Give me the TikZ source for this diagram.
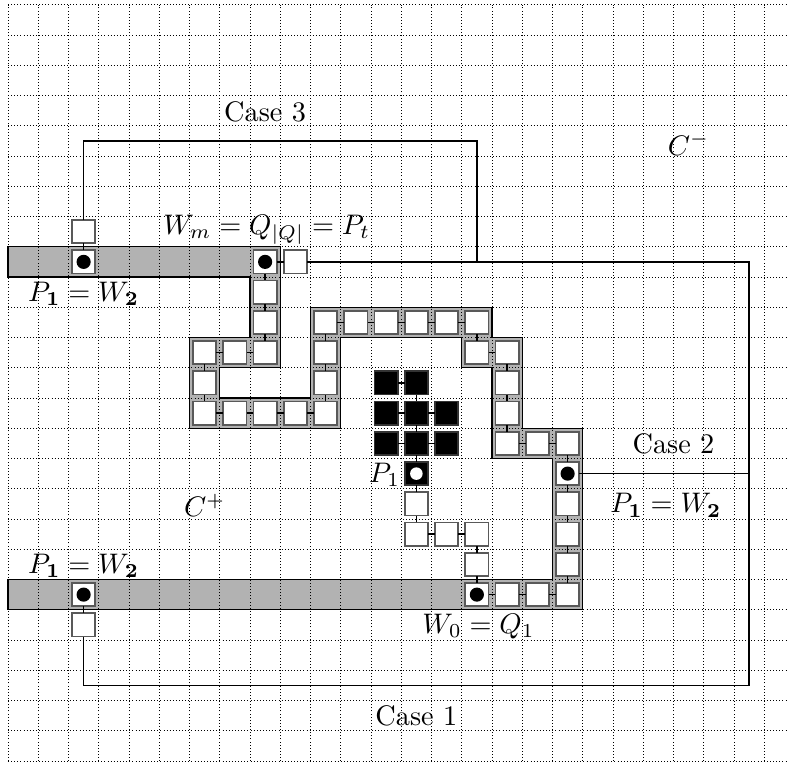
\documentclass[tikz,border=0pt]{standalone}
\usepackage{amsmath}
\begin{document}
\begin{tikzpicture}[x=0.376cm,y=0.376cm,
  cell/.style={draw=black!65, line width=0.6pt, fill=white, minimum size=0.29cm, inner sep=0pt, outer sep=0pt},
  bcell/.style={draw=black!80, line width=0.6pt, fill=black, minimum size=0.29cm, inner sep=0pt, outer sep=0pt},
  conn/.style={draw=black, line width=0.5pt},
  caseline/.style={draw=black, line width=0.5pt},
  lbl/.style={inner sep=0pt}]
\useasboundingbox (-0.264,-0.066) rectangle (25.752,25.157);
% gray region
\filldraw[fill=black!30, draw=black, line width=0.5pt]
 (0,17) -- (9,17) -- (9,13) -- (7,13) -- (7,12) -- (10,12) -- (10,15) -- (16,15) -- (16,14)
 -- (17,14) -- (17,11) -- (19,11) -- (19,5) -- (0,5) -- (0,6) -- (18,6) -- (18,10) -- (16,10)
 -- (16,13) -- (15,13) -- (15,14) -- (11,14) -- (11,11) -- (6,11) -- (6,14) -- (8,14) -- (8,16)
 -- (0,16) -- cycle;
% grid
\draw[line width=0.3pt, dash pattern=on 0.3pt off 0.8pt, step=0.376cm] (0,0) grid (25.75,25);
% white cells
\foreach \x/\y in {2/17,2/16,8/16,9/16,8/15,8/14,8/13,7/13,6/13,6/12,6/11,7/11,8/11,9/11,10/11,
  10/12,10/13,10/14,11/14,12/14,13/14,14/14,15/14,15/13,16/13,16/12,16/11,16/10,17/10,18/10,
  18/9,18/8,18/7,18/6,18/5,17/5,16/5,15/5,15/6,15/7,14/7,13/7,13/8,2/5,2/4}
  \node[cell] (c-\x-\y) at (\x+0.5,\y+0.5) {};
% black cells
\foreach \x/\y in {13/9,12/10,13/10,14/10,12/11,13/11,14/11,12/12,13/12}
  \node[bcell] (c-\x-\y) at (\x+0.5,\y+0.5) {};
% dots
\foreach \n in {c-2-16,c-8-16,c-18-9,c-15-5,c-2-5}
  \fill[black] (\n.center) circle[radius=0.088cm];
\fill[white] (c-13-9.center) circle[radius=0.078cm];
% connectors
\foreach \p/\q in {2-17/2-16,8-16/9-16,2-5/2-4,
  8-16/8-15,8-15/8-14,8-14/8-13,8-13/7-13,7-13/6-13,6-13/6-12,6-12/6-11,6-11/7-11,7-11/8-11,
  8-11/9-11,9-11/10-11,10-11/10-12,10-12/10-13,10-13/10-14,10-14/11-14,11-14/12-14,12-14/13-14,
  13-14/14-14,14-14/15-14,15-14/15-13,15-13/16-13,16-13/16-12,16-12/16-11,16-11/16-10,16-10/17-10,
  17-10/18-10,18-10/18-9,18-9/18-8,18-8/18-7,18-7/18-6,18-6/18-5,18-5/17-5,17-5/16-5,16-5/15-5,
  15-5/15-6,15-6/15-7,15-7/14-7,14-7/13-7,13-7/13-8,13-8/13-9,13-9/13-10,
  13-10/12-10,13-10/14-10,13-10/13-11,13-11/12-11,13-11/14-11,13-11/13-12,13-12/12-12}
  \draw[conn] (c-\p) -- (c-\q);
% case lines
\coordinate (k3a) at (2.5,20.5);
\coordinate (k3b) at (15.5,20.5);
\coordinate (k3c) at (15.5,16.5);
\coordinate (k1a) at (24.5,16.5);
\coordinate (k1b) at (24.5,2.5);
\coordinate (k1c) at (2.5,2.5);
\coordinate (k2) at (24.5,9.5);
\draw[caseline] (c-2-17) -- (k3a) -- (k3b) -- (k3c);
\draw[caseline] (c-9-16) -- (k1a) -- (k1b) -- (k1c) -- (c-2-4);
\draw[caseline] (c-18-9) -- (k2);
% labels
\node[lbl] (case3) at (8.5,21.45) {Case 3};
\node[lbl] (case2) at (22,10.48) {Case 2};
\node[lbl] (case1) at (13.5,1.48) {Case 1};
\node[lbl] (cminus) at (22.5,20.4) {$C^-$};
\node[lbl] (cplus) at (6.5,8.45) {$C^+$};
\node[lbl] (wm) at (8.55,17.55) {$W_m = Q_{|Q|} = P_t$};
\node[lbl] (ptl) at (2.5,15.45) {$P_{\mathbf{1}} = W_{\mathbf{2}}$};
\node[lbl] (pbl) at (2.5,6.45) {$P_{\mathbf{1}} = W_{\mathbf{2}}$};
\node[lbl] (pr) at (21.75,8.45) {$P_{\mathbf{1}} = W_{\mathbf{2}}$};
\node[lbl] (p1) at (12.45,9.45) {$P_1$};
\node[lbl] (w0) at (15.55,4.45) {$W_0 = Q_1$};
\end{tikzpicture}
\end{document}
